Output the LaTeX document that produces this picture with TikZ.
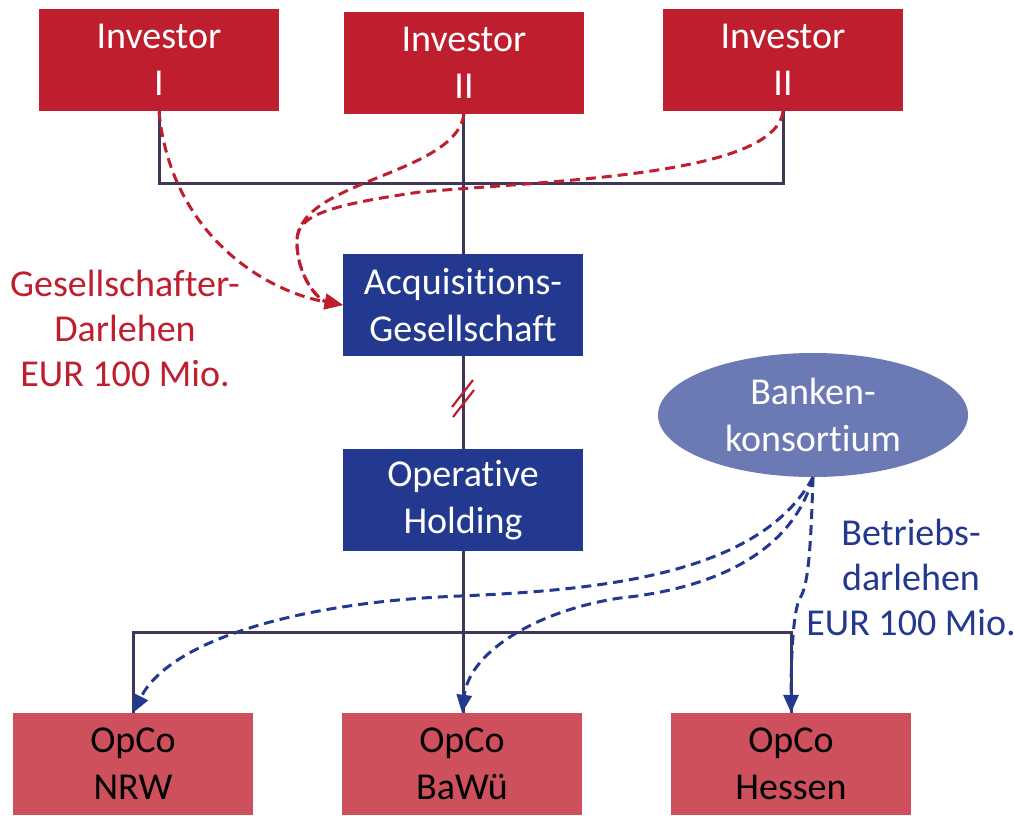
\documentclass[tikz,border=0pt]{standalone}
\usepackage{fontspec}
\setmainfont{Carlito}[Ligatures=NoCommon]
\usetikzlibrary{arrows.meta}
\usetikzlibrary{shapes.geometric}

\definecolor{invred}{HTML}{BE1E2D}
\definecolor{holdblue}{HTML}{23398F}
\definecolor{opcored}{HTML}{CD505C}
\definecolor{bankblue}{HTML}{6B7AB4}
\definecolor{linecol}{HTML}{3F365A}

\tikzset{
  box/.style={rectangle, minimum width=240pt, minimum height=102pt, inner sep=0pt,
    align=center, text=white, font=\fontsize{38}{47}\selectfont},
  investor/.style={box, fill=invred},
  holding/.style={box, fill=holdblue},
  opco/.style={box, fill=opcored, text=black},
  link/.style={draw=linecol, line width=3pt},
  loan/.style={line width=3pt, dash pattern=on 10pt off 6pt,
    -{Triangle[length=18pt,width=15pt]}},
  label/.style={align=center, font=\fontsize{38}{45}\selectfont}
}

\begin{document}
\begin{tikzpicture}[x=1pt,y=-1pt]
\useasboundingbox (0,0) rectangle (1014,815);

% investors
\node[investor] (inv1) at (159,60) {Investor\\I};
\node[investor] (inv2) at (464,63) {Investor\\II};
\node[investor] (inv3) at (783,60) {Investor\\II};

% holding chain
\node[holding] (acq) at (463,305) {Acquisitions-\\Gesellschaft};
\node[holding] (oph) at (463,500) {Operative\\Holding};

% operating companies
\node[opco] (nrw) at (133,764) {OpCo\\NRW};
\node[opco] (baw) at (462,764) {OpCo\\BaWü};
\node[opco] (hes) at (791,764) {OpCo\\Hessen};

% banks
\node[ellipse, fill=bankblue, minimum width=310pt, minimum height=124pt, inner sep=0pt,
  align=center, text=white, font=\fontsize{38}{47}\selectfont] (bank) at (813,415) {Banken-\\konsortium};

% ownership lines
\coordinate (topbus) at (463,183);
\coordinate (botbus) at (463,632);
\draw[link] (inv1.south) -- (inv1.south |- topbus) -- (inv3.south |- topbus) -- (inv3.south);
\draw[link] (acq.north |- inv2.south) -- (acq.north);
\draw[link] (acq.south) -- (oph.north);
\draw[link] (nrw.north) -- (nrw.north |- botbus) -- (hes.north |- botbus) -- (hes.north);
\draw[link] (oph.south) -- (oph.south |- baw.north);

% break mark
\draw[invred, line width=2.2pt] (452,407) -- (473,380) (453,417) -- (474,390);

% shareholder loans
\draw[loan, invred] (inv1.south) .. controls (170,230) and (260,290) .. (acq.west);
\draw[loan, invred] (inv2.south) .. controls (455,175) and (300,180) .. (297,240)
  .. controls (296,275) and (318,300) .. (acq.west);
\draw[loan, invred] (inv3.south) .. controls (775,175) and (560,180) .. (420,192)
  .. controls (330,205) and (297,215) .. (297,240)
  .. controls (296,275) and (318,300) .. (acq.west);

% bank loans
\draw[loan, holdblue] (bank.south) .. controls (760,575) and (600,590) .. (460,596)
  .. controls (300,602) and (170,640) .. (nrw.north);
\draw[loan, holdblue] (bank.south) .. controls (790,560) and (700,590) .. (620,598)
  .. controls (540,610) and (470,650) .. (baw.north);
\draw[loan, holdblue] (bank.south) .. controls (811,540) and (809,585) .. (800,598)
  .. controls (793,610) and (791,660) .. (hes.north);

% loan labels
\node[label, text=invred] (shlabel) at (125,328) {Gesellschafter-\\Darlehen\\EUR 100 Mio.};
\node[label, text=holdblue] (bklabel) at (911,577) {Betriebs-\\darlehen\\EUR 100 Mio.};

\end{tikzpicture}
\end{document}
